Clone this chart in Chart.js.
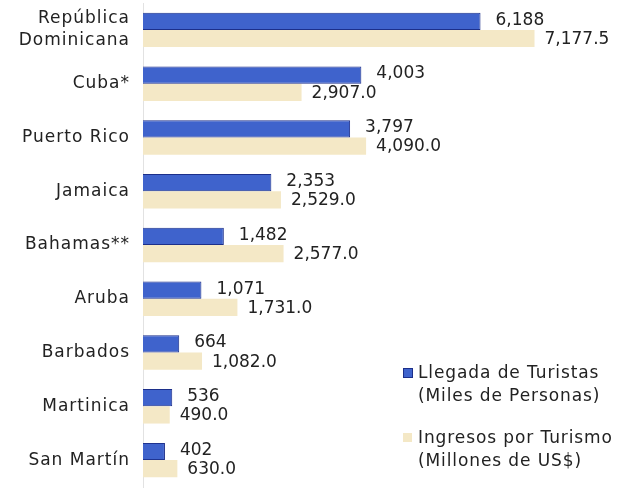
<!DOCTYPE html>
<html>
<head>
<meta charset="utf-8">
<script src="https://cdn.jsdelivr.net/npm/chart.js@4"></script>
<style>
  body { margin: 0; background: #fff; font-family: "DejaVu Sans", sans-serif; }
  #wrap { position: relative; width: 625px; height: 488px; }
  .leyenda { position: absolute; left: 403px; font-size: 17px; color: #222; line-height: 23px; letter-spacing: 0.9px; }
  .caja { position: absolute; left: 0; top: 7px; width: 9px; height: 9px; }
  .leyenda span { display: block; padding-left: 15px; }
</style>
</head>
<body>
<div id="wrap">
  <canvas id="grafico" width="625" height="488"></canvas>
  <div class="leyenda" style="top:361px">
    <div class="caja" style="background:#3f63cc;border:1px solid #1c2f8a;width:8px;height:8px"></div>
    <span>Llegada de Turistas</span>
    <span>(Miles de Personas)</span>
  </div>
  <div class="leyenda" style="top:426px">
    <div class="caja" style="background:#f4e8c6"></div>
    <span>Ingresos por Turismo</span>
    <span>(Millones de US$)</span>
  </div>
</div>
<script>
const paises = [['República', 'Dominicana'], 'Cuba*', 'Puerto Rico', 'Jamaica', 'Bahamas**', 'Aruba', 'Barbados', 'Martinica', 'San Martín'];
const llegadas = [6188, 4003, 3797, 2353, 1482, 1071, 664, 536, 402];
const ingresos = [7177.5, 2907.0, 4090.0, 2529.0, 2577.0, 1731.0, 1082.0, 490.0, 630.0];

// espaciado de letras para las etiquetas del eje
const espaciado = {
    id: 'espaciado',
    beforeDraw(chart) { chart.ctx.letterSpacing = '1px'; }
};

const etiquetasBarras = {
    id: 'etiquetasBarras',
    afterDatasetsDraw(chart) {
        const ctx = chart.ctx;
        ctx.save();
        ctx.letterSpacing = '0px';
        ctx.font = '17px "DejaVu Sans"';
        ctx.fillStyle = '#222';
        ctx.textBaseline = 'middle';
        ctx.textAlign = 'left';
        chart.data.datasets.forEach((ds, i) => {
            const meta = chart.getDatasetMeta(i);
            meta.data.forEach((bar, j) => {
                const v = ds.data[j];
                const texto = i === 0
                    ? v.toLocaleString('en-US')
                    : v.toLocaleString('en-US', { minimumFractionDigits: 1, maximumFractionDigits: 1 });
                const dx = i === 0 ? 15 : 10;
                const dy = i === 0 ? -1 : 1;
                ctx.fillText(texto, bar.x + dx, bar.y + dy);
            });
        });
        ctx.restore();
    }
};

new Chart(document.getElementById('grafico'), {
    type: 'bar',
    data: {
        labels: paises,
        datasets: [{
            label: 'Llegada de Turistas (Miles de Personas)',
            data: llegadas,
            backgroundColor: '#3f63cc',
            borderColor: '#1c2f8a',
            borderWidth: 1,
            categoryPercentage: 0.64,
            barPercentage: 1.0
        }, {
            label: 'Ingresos por Turismo (Millones de US$)',
            data: ingresos,
            backgroundColor: '#f4e8c6',
            borderWidth: 0,
            categoryPercentage: 0.64,
            barPercentage: 1.0
        }]
    },
    options: {
        indexAxis: 'y',
        responsive: false,
        animation: false,
        layout: { padding: { top: 3, bottom: 1, right: 2, left: 0 } },
        plugins: {
            legend: { display: false },
            tooltip: { enabled: false }
        },
        scales: {
            x: {
                min: 0,
                max: 8800,
                display: false
            },
            y: {
                afterFit: s => {
                    s.width = 143;
                    s.paddingTop = 0;
                    s.paddingBottom = 0;
                },
                grid: { display: false, drawTicks: false },
                border: { display: true, color: '#e2e2e2', width: 1 },
                ticks: {
                    color: '#222',
                    padding: 13,
                    font: { size: 17, family: 'DejaVu Sans', lineHeight: 1.3 }
                }
            }
        }
    },
    plugins: [espaciado, etiquetasBarras]
});
</script>
</body>
</html>
